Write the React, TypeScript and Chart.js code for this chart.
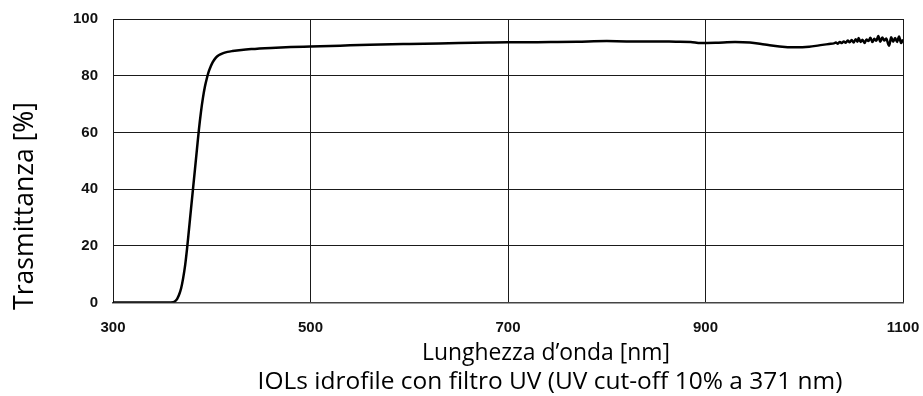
import { useEffect, useRef } from "react";
import { Chart, registerables } from "chart.js";

Chart.register(...registerables);

// Wavelength (nm) and transmittance (%)
const wavelengths = [
  300, 330, 355, 361, 363, 365, 367, 369, 371, 373, 375, 377, 379, 381, 383, 385,
  387, 389, 391, 393, 395, 397, 399, 401, 404, 407, 411, 416, 421, 430, 440, 460,
  480, 500, 530, 560, 600, 630, 650, 680, 700, 720, 750, 770, 800, 820, 850, 870,
  885, 895, 910, 930, 945, 960, 975, 990, 1005, 1015, 1025,
  1030, 1032, 1034, 1036, 1038, 1040, 1042, 1044, 1046, 1048, 1050, 1052, 1054,
  1055, 1057, 1059, 1061, 1063, 1065, 1067, 1069, 1071, 1073, 1075, 1077, 1079,
  1081, 1083, 1085, 1086, 1088, 1090, 1092, 1094, 1096, 1098, 1100,
];
const transmittance = [
  0, 0, 0, 0.1, 0.5, 1.3, 2.8, 5, 8.5, 13, 19, 26, 33, 40, 47, 54,
  61, 67, 72, 76, 79, 81.5, 83.3, 84.8, 86.3, 87.2, 87.9, 88.4, 88.7, 89.1, 89.4, 89.8,
  90.1, 90.3, 90.6, 90.9, 91.2, 91.4, 91.5, 91.7, 91.8, 91.8, 91.9, 92.0, 92.2, 92.1, 92.1, 92.0,
  91.9, 91.5, 91.6, 91.9, 91.7, 91.0, 90.3, 90.0, 90.2, 90.7, 91.2,
  91.4, 91.7, 91.3, 91.9, 91.5, 92.1, 91.6, 92.4, 91.8, 92.6, 91.7, 92.9, 92.0,
  93.3, 91.9, 92.7, 91.5, 92.8, 92.2, 93.4, 91.9, 93.0, 92.3, 94.0, 92.0, 93.5,
  92.4, 93.1, 91.2, 90.6, 93.6, 92.0, 93.3, 91.9, 93.8, 91.5, 92.8,
];

const xTicks = [300, 500, 700, 900, 1100];
const yTicks = [0, 20, 40, 60, 80, 100];

const xAxisTitle = "Lunghezza d’onda [nm]";
const yAxisTitle = "Trasmittanza [%]";
const caption = "IOLs idrofile con filtro UV (UV cut-off 10% a 371 nm)";

function fitFont(ctx: CanvasRenderingContext2D, text: string, target: number) {
  ctx.font = '20px "Open Sans"';
  const w = ctx.measureText(text).width;
  const size = (20 * target) / w;
  ctx.font = `${size.toFixed(2)}px "Open Sans"`;
}

const textPlugin = {
  id: "customTexts",
  afterDraw(chart: any) {
    const { ctx, chartArea: a } = chart;
    ctx.save();
    ctx.fillStyle = "#000";
    ctx.textAlign = "center";
    ctx.textBaseline = "alphabetic";
    fitFont(ctx, xAxisTitle, 248);
    ctx.fillText(xAxisTitle, a.left + 433, a.bottom + 57.5);
    fitFont(ctx, caption, 585);
    ctx.fillText(caption, a.left + 437, a.bottom + 86);
    ctx.translate(25, a.top + 187);
    ctx.rotate(-Math.PI / 2);
    ctx.textBaseline = "middle";
    fitFont(ctx, yAxisTitle, 208);
    ctx.fillText(yAxisTitle, 0, 0);
    ctx.restore();
  },
};

export default function App() {
  const canvasRef = useRef<HTMLCanvasElement | null>(null);

  useEffect(() => {
    if (!canvasRef.current) return;
    const tickFont = { family: "Liberation Sans", weight: "bold" as const, size: 15 };
    const chart = new Chart(canvasRef.current, {
      type: "scatter",
      data: {
        datasets: [
          {
            data: wavelengths.map((x, i) => ({ x, y: transmittance[i] })),
            showLine: true,
            borderColor: "#000",
            borderWidth: 2.5,
            pointRadius: 0,
            tension: 0.4,
            cubicInterpolationMode: "monotone",
          },
        ],
      },
      options: {
        responsive: false,
        animation: false,
        layout: { padding: { top: 19, right: 20, left: 0, bottom: 0 } },
        plugins: { legend: { display: false }, tooltip: { enabled: false } },
        scales: {
          x: {
            type: "linear",
            min: 300,
            max: 1100,
            afterBuildTicks: (s: any) => {
              s.ticks = xTicks.map((v) => ({ value: v }));
            },
            afterFit: (s: any) => {
              s.height = 93.5;
              s.paddingLeft = 0;
              s.paddingRight = 0;
            },
            grid: { color: "#1a1a1a", lineWidth: 1, drawTicks: false },
            border: { color: "#444", width: 1.5 },
            ticks: {
              padding: 16,
              font: tickFont,
              color: "#111",
              maxRotation: 0,
              callback: (v: any) => String(v),
            },
          },
          y: {
            min: 0,
            max: 100,
            afterBuildTicks: (s: any) => {
              s.ticks = yTicks.map((v) => ({ value: v }));
            },
            afterFit: (s: any) => {
              s.width = 113;
              s.paddingTop = 0;
              s.paddingBottom = 0;
            },
            grid: { color: "#1a1a1a", lineWidth: 1, drawTicks: false },
            border: { color: "#1a1a1a", width: 1 },
            ticks: { padding: 15, font: tickFont, color: "#111", callback: (v: any) => String(v) },
          },
        },
      },
      plugins: [textPlugin],
    });
    return () => chart.destroy();
  }, []);

  return (
    <div style={{ position: "absolute", left: 0, top: 0, width: 923, height: 396, background: "#fff" }}>
      <canvas ref={canvasRef} width={923} height={396} />
    </div>
  );
}
